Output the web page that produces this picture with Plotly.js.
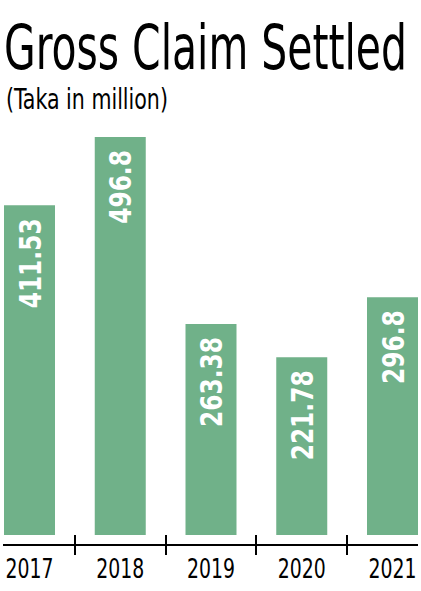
<!DOCTYPE html>
<html>
<head>
<meta charset="utf-8">
<script src="https://cdn.plot.ly/plotly-3.0.1.min.js"></script>
<style>html,body{margin:0;padding:0;background:#fff;}#chart{width:421px;height:591px;}</style>
</head>
<body>
<div id="chart"></div>
<script>
const years = ['2017', '2018', '2019', '2020', '2021'];
const claims = [411.53, 496.8, 263.38, 221.78, 296.8];
const claimLabels = ['411.53', '496.8', '263.38', '221.78', '296.8'];

const FONT = '"DejaVu Sans Condensed", "DejaVu Sans", sans-serif';
const GREEN = '#70b189';

const trace = {
  type: 'bar',
  x: years,
  y: claims,
  text: claimLabels,
  texttemplate: '%{text}',
  textposition: 'inside',
  insidetextanchor: 'end',
  textangle: -90,
  textfont: {family: FONT, size: 31, color: '#ffffff', weight: 'bold'},
  marker: {color: GREEN, line: {width: 0}},
  hoverinfo: 'none'
};

const helper = {
  type: 'bar', x: years, y: [0, 0, 0, 0, 0], xaxis: 'x2', yaxis: 'y',
  hoverinfo: 'none', showlegend: false, marker: {color: 'rgba(0,0,0,0)'}
};

const xr = [-0.292, 4.281];
const layout = {
  width: 421, height: 591,
  margin: {l: 3, r: 3, t: 130, b: 47},
  paper_bgcolor: '#ffffff', plot_bgcolor: '#ffffff',
  showlegend: false,
  bargap: 0.438,
  title: {
    text: 'Gross Claim Settled',
    font: {family: FONT, size: 62, color: '#000000'},
    x: 4 / 421, xref: 'container', xanchor: 'left',
    y: 1 - 26 / 591, yref: 'container', yanchor: 'top'
  },
  annotations: [{
    text: '(Taka in million)', showarrow: false,
    xref: 'paper', yref: 'paper', x: 0.002, xanchor: 'left',
    y: 1, yanchor: 'bottom', yshift: 13,
    font: {family: FONT, size: 27.5, color: '#000000'}
  }],
  xaxis: {
    type: 'category', range: xr, tickson: 'boundaries',
    ticks: 'outside', ticklen: 9, tickwidth: 2, tickcolor: '#000',
    showline: true, linecolor: '#000', linewidth: 2,
    showgrid: false, zeroline: false,
    tickfont: {family: FONT, size: 27, color: '#000'},
    fixedrange: true
  },
  xaxis2: {
    type: 'category', range: xr, overlaying: 'x', anchor: 'y', side: 'bottom',
    tickson: 'boundaries', ticks: 'inside', ticklen: 9, tickwidth: 2, tickcolor: '#000',
    showticklabels: false, showline: false, showgrid: false, zeroline: false
  },
  yaxis: {
    range: [-11.24, 505.6], visible: false, showgrid: false, zeroline: false, fixedrange: true
  }
};

// Horizontally condense a rendered text element (the reference uses a condensed face)
function squeeze(el, s, mode, dx) {
  const bb = el.getBBox();
  const px = mode === 'start' ? bb.x : (mode === 'end' ? bb.x + bb.width : bb.x + bb.width / 2);
  const prev = el.getAttribute('transform') || '';
  el.setAttribute('transform', prev + ' translate(' + (px + (dx || 0)) + ',0) scale(' + s + ',1) translate(' + (-px) + ',0)');
}

Plotly.newPlot('chart', [trace, helper], layout, {displayModeBar: false, staticPlot: true}).then(function (gd) {
  const title = gd.querySelector('.gtitle');
  if (title) squeeze(title, 403 / title.getBBox().width, 'start');
  const sub = gd.querySelector('.annotation-text');
  if (sub) squeeze(sub, 162 / sub.getBBox().width, 'start');
  gd.querySelectorAll('.xtick text').forEach(function (t) {
    squeeze(t, 48 / t.getBBox().width, 'middle');
  });
  const bts = gd.querySelectorAll('.bartext');
  if (bts.length) {
    const s = 90 / bts[0].getBBox().width;
    bts.forEach(function (t) { squeeze(t, s, 'end', -10); });
  }
});
</script>
</body>
</html>
